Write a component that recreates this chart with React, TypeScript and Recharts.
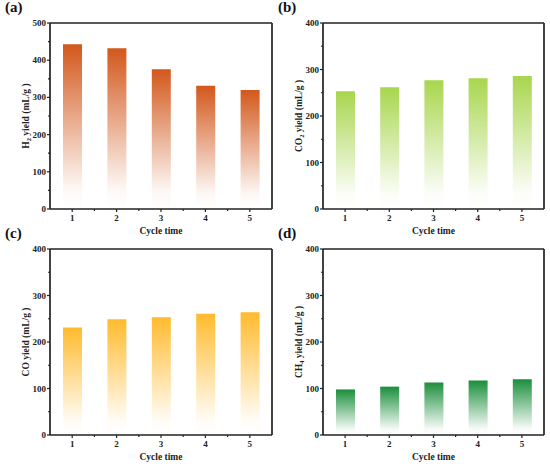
import { Bar, BarChart, Label, XAxis, YAxis } from 'recharts';

const cycles = [1, 2, 3, 4, 5];
const h2Yield = [443, 432, 376, 331, 320];
const co2Yield = [253, 262, 277, 281, 286];
const coYield = [231, 249, 253, 261, 264];
const ch4Yield = [98, 104, 113, 117, 120];

const xTicks = [1, 1.5, 2, 2.5, 3, 3.5, 4, 4.5, 5];
const yTicksH2 = [0, 50, 100, 150, 200, 250, 300, 350, 400, 450, 500];
const yTicksGas = [0, 50, 100, 150, 200, 250, 300, 350, 400];

const FONT = 'Liberation Serif, Times New Roman, DejaVu Serif, serif';
const INK = '#222';

interface PanelProps {
  id: string;
  letter: string;
  gas: string;
  sub?: string;
  values: number[];
  yTicks: number[];
  color: string;
  plotLeft: number;
  plotTop: number;
  plotWidth: number;
}

const PLOT_HEIGHT = 186;
const CHART_W = 275;
const CHART_H = 240;
const LEFT = 50;
const TOP = 23;

function XTick(props: any) {
  const { x, y, payload } = props;
  const major = Number.isInteger(payload.value);
  return (
    <g>
      <line x1={x} x2={x} y1={y} y2={y + (major ? 3 : 2)} stroke={INK} strokeWidth={1.2} />
      {major && (
        <text x={x} y={y + 12} textAnchor="middle" fontFamily={FONT} fontWeight="bold" fontSize={9} fill="#222">
          {payload.value}
        </text>
      )}
    </g>
  );
}

function YTick(props: any) {
  const { x, y, payload } = props;
  const major = payload.value % 100 === 0;
  return (
    <g>
      <line x1={x} x2={x - (major ? 3 : 2)} y1={y} y2={y} stroke={INK} strokeWidth={1.2} />
      {major && (
        <text x={x - 4} y={y + 3} textAnchor="end" fontFamily={FONT} fontWeight="bold" fontSize={9} fill="#222">
          {payload.value}
        </text>
      )}
    </g>
  );
}

function Panel({ id, letter, gas, sub, values, yTicks, color, plotLeft, plotTop, plotWidth }: PanelProps) {
  const data = cycles.map((c, i) => ({ cycle: c, value: values[i] }));
  const yMax = yTicks[yTicks.length - 1];
  const gradientId = `fade-${id}`;
  const bottom = CHART_H - TOP - PLOT_HEIGHT;

  const yLabel = (p: any) => {
    const vb = p.viewBox;
    const cx = vb.x + vb.width - 21;
    const cy = vb.y + vb.height / 2;
    return (
      <text
        x={cx}
        y={cy}
        transform={`rotate(-90, ${cx}, ${cy})`}
        textAnchor="middle"
        fontFamily={FONT}
        fontWeight="bold"
        fontSize={9.5}
        fill="#222"
      >
        <tspan>{gas}</tspan>
        {sub && (
          <tspan fontSize={6.5} dy={2}>
            {sub}
          </tspan>
        )}
        <tspan dy={sub ? -2 : 0}> yield (mL/g )</tspan>
      </text>
    );
  };

  const xLabel = (p: any) => {
    const vb = p.viewBox;
    return (
      <text
        x={vb.x + vb.width / 2}
        y={vb.y + 25}
        textAnchor="middle"
        fontFamily={FONT}
        fontWeight="bold"
        fontSize={9.5}
        fill="#222"
      >
        Cycle time
      </text>
    );
  };

  return (
    <>
      <div
        style={{
          position: 'absolute',
          left: plotLeft - 45,
          top: plotTop - 24,
          fontFamily: FONT,
          fontWeight: 'bold',
          fontSize: 15,
          color: '#111',
          lineHeight: '16px',
        }}
      >
        {letter}
      </div>
      <div style={{ position: 'absolute', left: plotLeft - LEFT, top: plotTop - TOP }}>
        <BarChart
          width={CHART_W}
          height={CHART_H}
          data={data}
          margin={{ top: TOP - 1, left: 0, right: CHART_W - LEFT - plotWidth - 1, bottom: 0 }}
        >
          <defs>
            <linearGradient id={gradientId} x1="0" y1="0" x2="0" y2="1">
              <stop offset="0%" stopColor={color} stopOpacity={1} />
              <stop offset="88%" stopColor={color} stopOpacity={0.04} />
              <stop offset="100%" stopColor={color} stopOpacity={0} />
            </linearGradient>
          </defs>
          <XAxis
            dataKey="cycle"
            type="number"
            domain={[0.5, 5.5]}
            ticks={xTicks}
            height={bottom}
            tickSize={0}
            tickMargin={0}
            tickLine={false}
            tick={<XTick />}
            axisLine={{ stroke: INK, strokeWidth: 1.7 }}
            interval={0}
          >
            <Label content={xLabel} />
          </XAxis>
          <XAxis
            xAxisId="top"
            dataKey="cycle"
            type="number"
            domain={[0.5, 5.5]}
            orientation="top"
            height={1}
            tick={false}
            tickLine={false}
            axisLine={{ stroke: INK, strokeWidth: 1.7 }}
          />
          <YAxis
            type="number"
            domain={[0, yMax]}
            ticks={yTicks}
            width={LEFT}
            tickSize={0}
            tickMargin={0}
            tickLine={false}
            tick={<YTick />}
            axisLine={{ stroke: INK, strokeWidth: 1.7 }}
            interval={0}
          >
            <Label content={yLabel} />
          </YAxis>
          <YAxis
            yAxisId="right"
            orientation="right"
            type="number"
            domain={[0, yMax]}
            width={1}
            tick={false}
            tickLine={false}
            axisLine={{ stroke: INK, strokeWidth: 1.7 }}
          />
          <Bar dataKey="value" barSize={19} fill={`url(#${gradientId})`} isAnimationActive={false} />
        </BarChart>
      </div>
    </>
  );
}

export default function App() {
  return (
    <div style={{ position: 'absolute', left: 0, top: 0, width: 550, height: 467, background: '#fff' }}>
      <Panel id="a" letter="(a)" gas="H" sub="2" values={h2Yield} yTicks={yTicksH2} color="#D2581C"
        plotLeft={50} plotTop={23} plotWidth={222} />
      <Panel id="b" letter="(b)" gas="CO" sub="2" values={co2Yield} yTicks={yTicksGas} color="#A8D64E"
        plotLeft={323} plotTop={23} plotWidth={221} />
      <Panel id="c" letter="(c)" gas="CO" values={coYield} yTicks={yTicksGas} color="#FFBB2E"
        plotLeft={50} plotTop={249} plotWidth={222} />
      <Panel id="d" letter="(d)" gas="CH" sub="4" values={ch4Yield} yTicks={yTicksGas} color="#1B8E3C"
        plotLeft={323} plotTop={249} plotWidth={221} />
    </div>
  );
}
